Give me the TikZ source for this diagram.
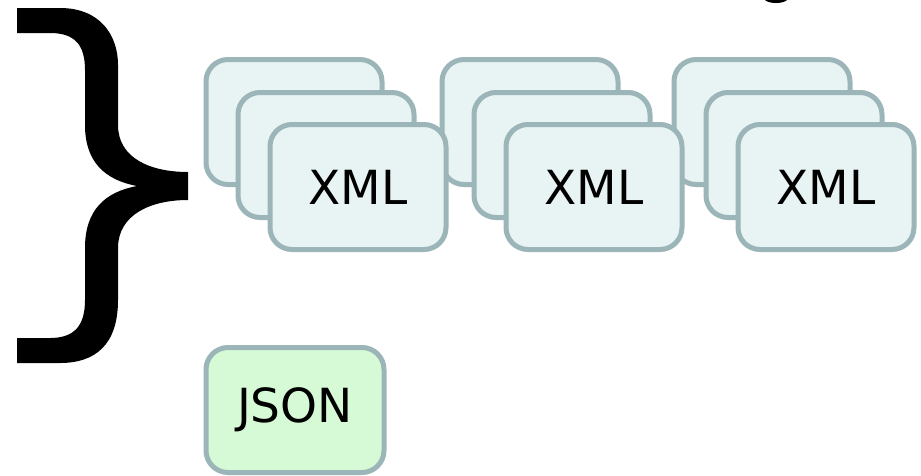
\documentclass[tikz,border=0pt]{standalone}
\usepackage{fontspec}
\setmainfont{DejaVu Sans}
\usepackage{tikz}
\usetikzlibrary{calc}

\definecolor{docfill}{HTML}{E8F3F3}
\definecolor{docline}{HTML}{9BB5B8}
\definecolor{jsonfill}{HTML}{D5FAD5}

\begin{document}
\begin{tikzpicture}[x=1pt,y=-1pt,
  doc/.style={rectangle,rounded corners=22pt,draw=docline,line width=5pt,
    fill=docfill,minimum width=176pt,minimum height=125pt,inner sep=0pt,
    font=\fontsize{47}{50}\selectfont},
  json/.style={doc,fill=jsonfill,minimum width=178pt}]

  \useasboundingbox (0,0) rectangle (921,475);

  % the brace
  \fill[black] (17,8) -- (60,8) .. controls (100,8) and (118,35) .. (118,65)
    -- (118,125) .. controls (118,158) and (150,172) .. (188,172)
    -- (188,200) .. controls (150,200) and (118,215) .. (118,248)
    -- (118,300) .. controls (118,345) and (95,363) .. (60,363)
    -- (17,363) -- (17,338) -- (50,338) .. controls (75,338) and (85,325) .. (85,300)
    -- (85,248) .. controls (85,210) and (105,192) .. (137,186)
    .. controls (105,180) and (85,162) .. (85,125)
    -- (85,70) .. controls (85,45) and (75,33) .. (50,33) -- (17,33) -- cycle;

  % bit of a glyph cut off at the top
  \fill[black] (765,0) .. controls (769,4) and (783,4) .. (787,0) -- cycle;

  % back row
  \node[doc] (a1) at (294,122) {};
  \node[doc] (b1) at (530,122) {};
  \node[doc] (c1) at (762,122) {};

  % middle row
  \node[doc] (a2) at ($(a1)+(32,33)$) {};
  \node[doc] (b2) at ($(b1)+(32,33)$) {};
  \node[doc] (c2) at ($(c1)+(32,33)$) {};

  % front row
  \node[doc] (a3) at ($(a2)+(32,32)$) {XML};
  \node[doc] (b3) at ($(b2)+(32,32)$) {XML};
  \node[doc] (c3) at ($(c2)+(32,32)$) {XML};

  \node[json] (j) at (295,410) {JSON};

\end{tikzpicture}
\end{document}
